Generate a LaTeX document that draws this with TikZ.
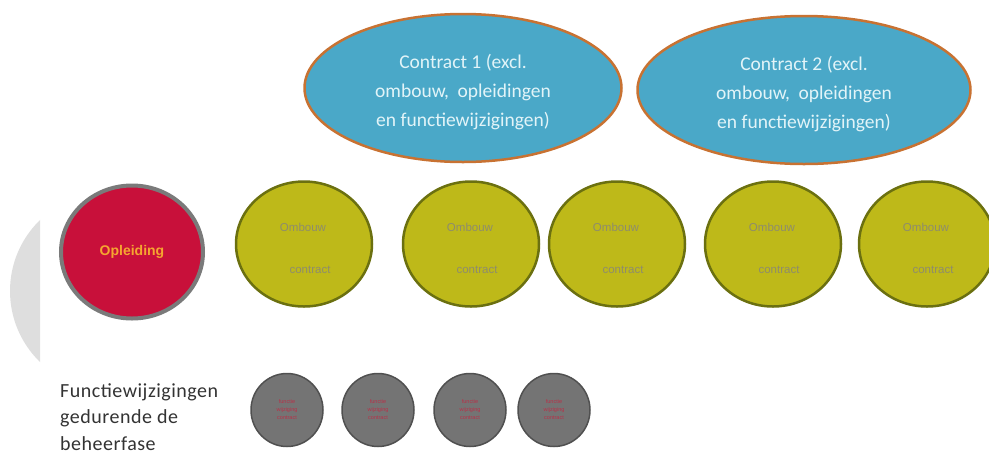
\documentclass[tikz,border=0pt]{standalone}
\usepackage{fontspec}
\setmainfont{Carlito}
\newfontfamily\arialf{Liberation Sans}
\newfontfamily\spacedf[LetterSpace=2.5]{Carlito}
\usetikzlibrary{shapes.geometric}
\definecolor{blueF}{HTML}{4AA8C8}
\definecolor{blueB}{HTML}{C87232}
\definecolor{blueT}{HTML}{E2F4F8}
\definecolor{oliveF}{HTML}{BEB919}
\definecolor{oliveB}{HTML}{6B7010}
\definecolor{oliveT}{HTML}{8E8C6C}
\definecolor{redF}{HTML}{C8103A}
\definecolor{redB}{HTML}{7A7A7A}
\definecolor{redT}{HTML}{F5A630}
\definecolor{greyF}{HTML}{747474}
\definecolor{greyB}{HTML}{505050}
\definecolor{greyT}{HTML}{B83048}
\definecolor{pale}{HTML}{DEDEDE}
\definecolor{darktext}{HTML}{333333}
\tikzset{
  contractbox/.style={ellipse, draw=blueB, line width=2.5pt, fill=blueF, inner sep=0pt,
     minimum width=#1, minimum height=148pt},
  contracttext/.style={text=blueT, align=center, inner sep=0pt,
     font=\fontsize{19.5}{29}\selectfont},
  ombouwbox/.style={ellipse, draw=oliveB, line width=2.5pt, fill=oliveF, inner sep=0pt,
     minimum width=136pt, minimum height=125pt},
  ombouwtext/.style={text=oliveT, font=\arialf\fontsize{11.5}{12}\selectfont, inner sep=0pt},
  redbox/.style={ellipse, draw=redB, line width=4pt, fill=redF, inner sep=0pt,
     minimum width=142pt, minimum height=133pt, text=redT,
     font=\arialf\bfseries\fontsize{14}{16}\selectfont},
  greybox/.style={ellipse, draw=greyB, line width=1.5pt, fill=greyF, inner sep=0pt,
     minimum width=72pt, minimum height=73pt, text=greyT, align=center,
     font=\arialf\fontsize{5.5}{8}\selectfont},
  lefttext/.style={anchor=west, text=darktext, inner sep=0pt,
     font=\spacedf\fontsize{20}{24}\selectfont}
}
\begin{document}
\begin{tikzpicture}[x=1pt,y=-1pt]
\useasboundingbox (0,0) rectangle (989,459);
\begin{scope}
  \clip (0,0) rectangle (40,459);
  \fill[pale] (109,291) circle[radius=99];
\end{scope}
\begin{scope}
  \clip (0,0) rectangle (989,459);
% contracts
\node[contractbox=317pt] (c1) at (463,88) {};
\node[contracttext] (c1t) at ([yshift=-4pt]c1.center) {Contract 1 (excl.\\ombouw,\ \ opleidingen\\en functiewijzigingen)};
\node[contractbox=333pt] (c2) at (804,90) {};
\node[contracttext] (c2t) at ([yshift=-4pt]c2.center) {Contract 2 (excl.\\ombouw,\ \ opleidingen\\en functiewijzigingen)};
% red
\node[redbox] (opl) at (132,252) {Opleiding};
% olive circles
\foreach \n/\cx in {o1/304,o2/471,o3/617,o4/773,o5/927}{
  \node[ombouwbox] (\n) at (\cx,244) {};
  \node[ombouwtext] (\n-a) at ([xshift=-1pt,yshift=17pt]\n.center) {Ombouw};
  \node[ombouwtext] (\n-b) at ([xshift=6pt,yshift=-26pt]\n.center) {contract};
}
% grey circles
\foreach \n/\cx in {g1/287,g2/378,g3/470,g4/554}{
  \node[greybox] (\n) at (\cx,410) {functie\\wijziging\\contract};
}
\end{scope}
% left text
\node[lefttext] (ft1) at (60,392) {Functiewijzigingen};
\node[lefttext] (ft2) at (60,418) {gedurende de};
\node[lefttext] (ft3) at (60,444) {beheerfase};
\end{tikzpicture}
\end{document}
